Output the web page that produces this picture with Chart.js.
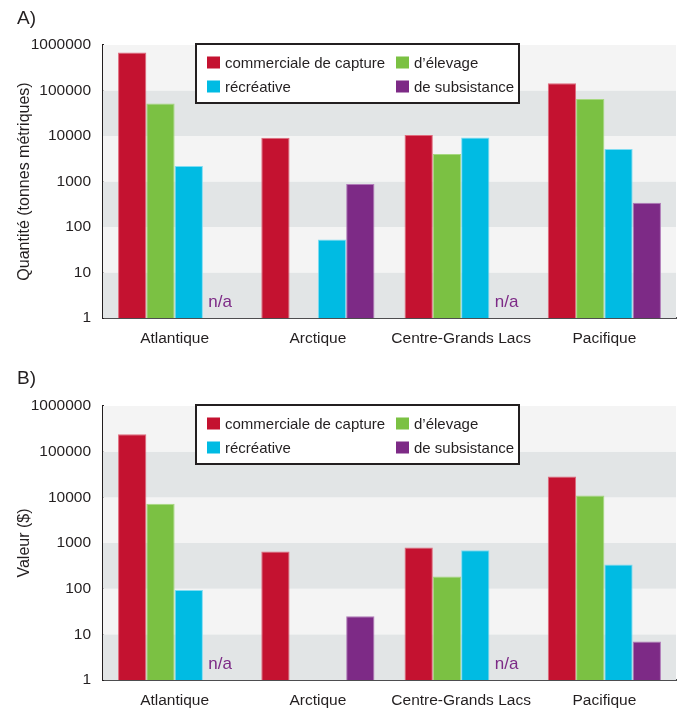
<!DOCTYPE html>
<html>
<head>
<meta charset="utf-8">
<script src="https://cdn.jsdelivr.net/npm/chart.js@4.4.1/dist/chart.umd.min.js"></script>
<style>
  html, body { margin: 0; padding: 0; background: #ffffff; }
  body { width: 681px; height: 710px; position: relative; overflow: hidden; }
  .panel { position: absolute; left: 0; width: 681px; }
  #pa { top: 0; height: 355px; }
  #pb { top: 360px; height: 350px; }
</style>
</head>
<body>
<div class="panel" id="pa"><canvas id="chartA"></canvas></div>
<div class="panel" id="pb"><canvas id="chartB"></canvas></div>
<script>
// ---- Data ----
const categories = ['Atlantique', 'Arctique', 'Centre-Grands Lacs', 'Pacifique'];
const seriesNames = ['commerciale de capture', 'd’élevage', 'récréative', 'de subsistance'];

// A) Quantité (tonnes métriques)
const quantiteCommerciale = [680000, 9100, 10500, 145000];
const quantiteElevage     = [52000, null, 4000, 65000];
const quantiteRecreative  = [2200, 53, 9300, 5200];
const quantiteSubsistance = [null, 880, null, 340];

// B) Valeur ($)
const valeurCommerciale = [240000, 650, 800, 28500];
const valeurElevage     = [7200, null, 185, 11000];
const valeurRecreative  = [94, null, 690, 340];
const valeurSubsistance = [null, 25, null, 7];

// categories marked "n/a" for the subsistence series
const naCategories = ['Atlantique', 'Centre-Grands Lacs'];
const yTickValues = [1, 10, 100, 1000, 10000, 100000, 1000000];

// ---- Styles ----
const colors = ['#c41230', '#7bc143', '#00bbe3', '#7d2a86'];
const edgeColors = ['#e06a7c', '#a6d87e', '#7fdcf2', '#b07ab8'];
const naColor = '#7d2a86';
const textColor = '#231f20';
const FONT = "'Liberation Sans', Arial, sans-serif";

Chart.defaults.font.family = FONT;
Chart.defaults.color = textColor;

const bandsPlugin = {
  id: 'bands',
  beforeDatasetsDraw(chart) {
    const { ctx, chartArea: ca, scales: { y } } = chart;
    ctx.save();
    for (let i = 0; i < yTickValues.length - 1; i++) {
      const yb = y.getPixelForValue(yTickValues[i]);
      const yt = y.getPixelForValue(yTickValues[i + 1]);
      ctx.fillStyle = (i % 2 === 0) ? '#e2e5e6' : '#f4f4f4';
      ctx.fillRect(ca.left, yt, ca.right - ca.left, yb - yt);
    }
    ctx.restore();
  }
};

const extrasPlugin = {
  id: 'extras',
  afterDraw(chart, args, opts) {
    const { ctx, chartArea: ca, scales: { x } } = chart;
    ctx.save();
    // panel letter
    ctx.fillStyle = textColor;
    ctx.font = '19px ' + FONT;
    ctx.textAlign = 'left';
    ctx.textBaseline = 'middle';
    ctx.fillText(opts.letter, 17, 19);

    // n/a labels
    const meta = chart.getDatasetMeta(3);
    ctx.fillStyle = naColor;
    ctx.font = '17px ' + FONT;
    ctx.textAlign = 'center';
    ctx.textBaseline = 'middle';
    naCategories.forEach(cat => {
      const idx = categories.indexOf(cat);
      let px = meta.data[idx] ? meta.data[idx].x : NaN;
      if (!isFinite(px)) {
        const w = (ca.right - ca.left) / categories.length;
        px = x.getPixelForValue(idx) + w * 0.79 * 0.375;
      }
      ctx.fillText('n/a', px + 3, ca.bottom - 16);
    });

    // legend box
    const bx = 196, by = ca.top - 1, bw = 323, bh = 59;
    ctx.fillStyle = '#ffffff';
    ctx.fillRect(bx, by, bw, bh);
    ctx.strokeStyle = '#231f20';
    ctx.lineWidth = 2;
    ctx.strokeRect(bx, by, bw, bh);
    const cols = [207, 396];
    const rows = [by + 18.5, by + 42.5];
    const order = [[0, 0, 0], [1, 1, 0], [2, 0, 1], [3, 1, 1]];
    ctx.font = '15px ' + FONT;
    ctx.textAlign = 'left';
    ctx.textBaseline = 'middle';
    order.forEach(([di, c, r]) => {
      const sx = cols[c], sy = rows[r];
      ctx.fillStyle = colors[di];
      ctx.fillRect(sx, sy - 6, 13, 12);
      ctx.fillStyle = textColor;
      ctx.fillText(chart.data.datasets[di].label, sx + 18, sy + 1);
    });
    ctx.restore();
  }
};

function makeChart(canvasId, letter, yTitle, series, topPad, xHeight) {
  const datasets = series.map((vals, i) => ({
    label: seriesNames[i],
    data: vals,
    backgroundColor: colors[i],
    borderColor: edgeColors[i],
    borderWidth: { left: 1, right: 1, top: 1, bottom: 0 },
    borderSkipped: 'bottom',
    barPercentage: 1.0,
    categoryPercentage: 0.79
  }));
  return new Chart(document.getElementById(canvasId), {
    type: 'bar',
    data: { labels: categories, datasets },
    options: {
      responsive: true,
      maintainAspectRatio: false,
      animation: false,
      layout: { padding: { top: topPad, right: 5, left: 0, bottom: 0 } },
      plugins: {
        legend: { display: false },
        tooltip: { enabled: false },
        extras: { letter }
      },
      scales: {
        x: {
          grid: { display: false, drawTicks: false },
          border: { display: true, color: '#4d4d4f', width: 2 },
          ticks: { font: { size: 15.5 }, color: textColor, padding: 11, autoSkip: false, maxRotation: 0 },
          afterFit(scale) { scale.height = xHeight; }
        },
        y: {
          type: 'logarithmic',
          min: 1,
          max: 1000000,
          grid: { display: false, drawTicks: false },
          border: { display: true, color: '#231f20', width: 2 },
          afterBuildTicks(scale) { scale.ticks = yTickValues.map(v => ({ value: v })); },
          ticks: {
            font: { size: 15.5 },
            color: textColor,
            padding: 12,
            callback: (v) => String(v)
          },
          title: {
            display: true,
            text: yTitle,
            font: { size: 16 },
            color: textColor,
            padding: { top: 15, bottom: 0 }
          },
          afterFit(scale) { scale.width = 103; }
        }
      }
    },
    plugins: [bandsPlugin, extrasPlugin]
  });
}

makeChart('chartA', 'A)', 'Quantité (tonnes métriques)',
  [quantiteCommerciale, quantiteElevage, quantiteRecreative, quantiteSubsistance], 45, 37);
makeChart('chartB', 'B)', 'Valeur ($)',
  [valeurCommerciale, valeurElevage, valeurRecreative, valeurSubsistance], 46, 30);
</script>
</body>
</html>
